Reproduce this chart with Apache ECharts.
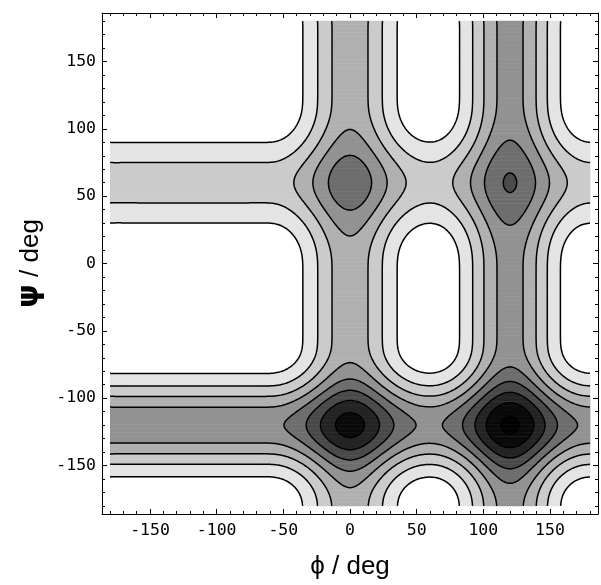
<!DOCTYPE html>
<html>
<head>
<meta charset="utf-8">
<script src="https://cdn.jsdelivr.net/npm/echarts@6/dist/echarts.min.js"></script>
<style>
  html, body { margin: 0; padding: 0; background: #fff; }
  #main { width: 601px; height: 585px; }
</style>
</head>
<body>
<div id="main"></div>
<script>
// bands of the map (deg, contour units)
const phiBandCenters = [0, 120];
const phiBandHeights = [3.6, 4.4];
const phiBandWidths = [31.6, 31.6];
const psiBandCenters = [60, -120];
const psiBandHeights = [2.52, 4.8];
const psiBandWidths = [31.2, 31.1];
// a psi band is lower where a phi band crosses it (rows: psi bands, cols: phi bands)
const psiBandHeightAtCross = [[0.85, 0.67], [1, 1]];
const crossReach = 22;
const bandReach = 55;

const contourLevels = [1, 2, 3, 4, 5, 6, 7, 8, 9];
const levelGrays = ['#ffffff', '#e4e4e4', '#cbcbcb', '#b0b0b0', '#929292',
                    '#6e6e6e', '#4a4a4a', '#242424', '#0a0a0a', '#000000'];

const xTicks = [-150, -100, -50, 0, 50, 100, 150];
const yTicks = [-150, -100, -50, 0, 50, 100, 150];
const minorTicks = [-180, -170, -160, -140, -130, -120, -110, -90, -80, -70, -60,
                    -40, -30, -20, -10, 10, 20, 30, 40, 60, 70, 80, 90,
                    110, 120, 130, 140, 160, 170, 180];

function wrap(a) {
  return ((a % 360) + 540) % 360 - 180;
}

function band(d, h, w) {
  return h * Math.exp(-(d * d) / (w * w) - Math.pow(Math.abs(d) / bandReach, 8));
}

function field(phi, psi) {
  let v = 0;
  phiBandCenters.forEach((c, i) => {
    v += band(wrap(phi - c), phiBandHeights[i], phiBandWidths[i]);
  });
  psiBandCenters.forEach((c, i) => {
    let m = 1;
    phiBandCenters.forEach((pc, j) => {
      const s = wrap(phi - pc);
      m += (psiBandHeightAtCross[i][j] - 1) * Math.exp(-s * s / (2 * crossReach * crossReach));
    });
    v += band(wrap(psi - c), psiBandHeights[i] * m, psiBandWidths[i]);
  });
  return v;
}

function levelOf(v) {
  let n = 0;
  while (n < contourLevels.length && v >= contourLevels[n]) n++;
  return n;
}

// filled bands: one row per degree of psi, runs of equal level along phi
const fillRuns = [];
for (let j = 0; j <= 360; j++) {
  const psi = -180 + j;
  const y0 = Math.max(-180, psi - 0.5), y1 = Math.min(180, psi + 0.5);
  let runStart = -180, runLevel = levelOf(field(-180, psi));
  for (let x = -179.75; x <= 180.001; x += 0.25) {
    const lv = levelOf(field(x, psi));
    if (lv !== runLevel) {
      const edge = x - 0.125;
      if (runLevel > 0) fillRuns.push([runStart, edge, y0, y1, runLevel]);
      runStart = edge;
      runLevel = lv;
    }
  }
  if (runLevel > 0) fillRuns.push([runStart, 180, y0, y1, runLevel]);
}

// contour lines by marching squares on a 1 deg grid
const N = 360;
const grid = [];
for (let j = 0; j <= N; j++) {
  const row = new Float64Array(N + 1);
  for (let i = 0; i <= N; i++) row[i] = field(-180 + i, -180 + j);
  grid.push(row);
}

function contourChains(L) {
  const pts = new Map();
  const segs = [];
  const adj = new Map();
  const hKey = (i, j) => (j * (N + 1) + i) * 2;
  const vKey = (i, j) => (j * (N + 1) + i) * 2 + 1;
  function point(key, i, j, horiz, va, vb) {
    if (!pts.has(key)) {
      const t = (L - va) / (vb - va);
      pts.set(key, horiz ? [-180 + i + t, -180 + j] : [-180 + i, -180 + j + t]);
    }
    return key;
  }
  function addSeg(a, b) {
    const s = segs.length;
    segs.push([a, b]);
    if (!adj.has(a)) adj.set(a, []);
    if (!adj.has(b)) adj.set(b, []);
    adj.get(a).push(s);
    adj.get(b).push(s);
  }
  for (let j = 0; j < N; j++) {
    for (let i = 0; i < N; i++) {
      const v0 = grid[j][i], v1 = grid[j][i + 1], v2 = grid[j + 1][i + 1], v3 = grid[j + 1][i];
      const idx = (v0 >= L ? 1 : 0) | (v1 >= L ? 2 : 0) | (v2 >= L ? 4 : 0) | (v3 >= L ? 8 : 0);
      if (idx === 0 || idx === 15) continue;
      const e = [];
      if ((v0 >= L) !== (v1 >= L)) e[0] = point(hKey(i, j), i, j, true, v0, v1);
      if ((v1 >= L) !== (v2 >= L)) e[1] = point(vKey(i + 1, j), i + 1, j, false, v1, v2);
      if ((v3 >= L) !== (v2 >= L)) e[2] = point(hKey(i, j + 1), i, j + 1, true, v3, v2);
      if ((v0 >= L) !== (v3 >= L)) e[3] = point(vKey(i, j), i, j, false, v0, v3);
      if (idx === 5 || idx === 10) {
        const c = (v0 + v1 + v2 + v3) / 4 >= L;
        if ((idx === 5) === c) { addSeg(e[0], e[1]); addSeg(e[2], e[3]); }
        else { addSeg(e[3], e[0]); addSeg(e[1], e[2]); }
      } else {
        const ks = e.filter(k => k !== undefined);
        addSeg(ks[0], ks[1]);
      }
    }
  }
  const used = new Uint8Array(segs.length);
  const chains = [];
  function extend(chain, start, atEnd) {
    let cur = start;
    while (true) {
      const next = (adj.get(cur) || []).find(s => !used[s]);
      if (next === undefined) break;
      used[next] = 1;
      const other = segs[next][0] === cur ? segs[next][1] : segs[next][0];
      if (atEnd) chain.push(other); else chain.unshift(other);
      cur = other;
    }
  }
  for (let s = 0; s < segs.length; s++) {
    if (used[s]) continue;
    used[s] = 1;
    const chain = [segs[s][0], segs[s][1]];
    extend(chain, segs[s][1], true);
    extend(chain, segs[s][0], false);
    chains.push(chain.map(k => pts.get(k)));
  }
  return chains;
}

const contourLines = [];
contourLevels.forEach(L => {
  contourChains(L).forEach(c => contourLines.push({ coords: c }));
});

const chart = echarts.init(document.getElementById('main'), null, { renderer: 'canvas' });

const black = { color: '#000', width: 1 };
function axisPair(kind, position, major, withLabels, name) {
  const base = {
    type: 'value', min: -186, max: 186, position: position,
    splitLine: { show: false }
  };
  const main = Object.assign({}, base, {
    axisLine: { show: true, onZero: false, lineStyle: black },
    axisTick: { show: true, inside: true, length: 5, customValues: major, lineStyle: black },
    axisLabel: withLabels
      ? { show: true, customValues: major, fontFamily: 'DejaVu Sans Mono', fontSize: 16.5, color: '#000', margin: kind === 'x' ? 8 : 6 }
      : { show: false, customValues: major }
  });
  if (name) {
    main.name = name;
    main.nameLocation = 'middle';
  }
  const minor = Object.assign({}, base, {
    axisLine: { show: false, onZero: false },
    axisTick: { show: true, inside: true, length: 3, customValues: minorTicks, lineStyle: black },
    axisLabel: { show: false, customValues: minorTicks }
  });
  return [main, minor];
}

const xAxes = axisPair('x', 'bottom', xTicks, true, 'ϕ / deg').concat(axisPair('x', 'top', xTicks, false));
xAxes[0].nameGap = 40;
xAxes[0].nameTextStyle = { fontFamily: 'Liberation Sans', fontSize: 26, color: '#000' };
const yAxes = axisPair('y', 'left', yTicks, true, '{psi|ψ} / deg').concat(axisPair('y', 'right', yTicks, false));
yAxes[0].nameGap = 54;
yAxes[0].nameTextStyle = {
  fontFamily: 'Liberation Sans', fontSize: 26, color: '#000',
  rich: { psi: { fontFamily: 'DejaVu Sans', fontWeight: 'bold', fontSize: 30, color: '#000' } }
};

chart.setOption({
  animation: false,
  backgroundColor: '#fff',
  grid: { left: 102, right: 3, top: 13, bottom: 71 },
  xAxis: xAxes,
  yAxis: yAxes,
  series: [
    {
      type: 'custom',
      xAxisIndex: 0, yAxisIndex: 0,
      silent: true,
      progressive: 0,
      dimensions: ['x0', 'x1', 'y0', 'y1', 'level'],
      encode: { x: [0, 1], y: [2, 3] },
      data: fillRuns,
      renderItem: function (params, api) {
        const a = api.coord([api.value(0), api.value(3)]);
        const b = api.coord([api.value(1), api.value(2)]);
        return {
          type: 'rect',
          shape: { x: a[0], y: a[1] - 0.3, width: b[0] - a[0] + 0.3, height: b[1] - a[1] + 0.6 },
          style: { fill: levelGrays[api.value(4)] }
        };
      },
      z: 1
    },
    {
      type: 'lines',
      coordinateSystem: 'cartesian2d',
      xAxisIndex: 0, yAxisIndex: 0,
      polyline: true,
      silent: true,
      progressive: 0,
      data: contourLines,
      lineStyle: { color: '#000', width: 1.5, opacity: 1 },
      z: 2
    }
  ]
});
</script>
</body>
</html>
